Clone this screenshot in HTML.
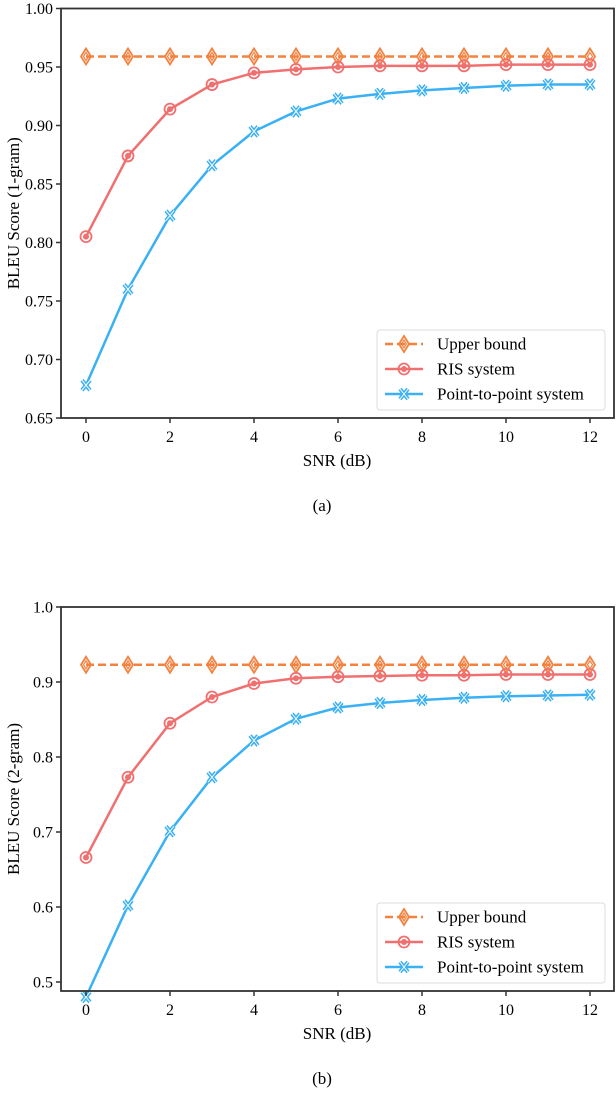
<!DOCTYPE html>
<html><head><meta charset="utf-8"><style>
body{margin:0;background:#fff}
svg{display:block;font-family:"Liberation Serif",serif}
</style></head><body>
<svg id="s" width="616" height="1116"></svg>
<script>
const snr=[0,1,2,3,4,5,6,7,8,9,10,11,12];
const xTicks=[0,2,4,6,8,10,12];
const upperA=[0.959,0.959,0.959,0.959,0.959,0.959,0.959,0.959,0.959,0.959,0.959,0.959,0.959];
const risA=[0.805,0.874,0.914,0.935,0.945,0.948,0.950,0.951,0.951,0.951,0.952,0.952,0.952];
const p2pA=[0.678,0.760,0.823,0.866,0.895,0.912,0.923,0.927,0.930,0.932,0.934,0.935,0.935];
const yTicksA=[0.65,0.70,0.75,0.80,0.85,0.90,0.95,1.00];
const yLabelsA=["0.65","0.70","0.75","0.80","0.85","0.90","0.95","1.00"];
const upperB=[0.923,0.923,0.923,0.923,0.923,0.923,0.923,0.923,0.923,0.923,0.923,0.923,0.923];
const risB=[0.666,0.773,0.845,0.880,0.898,0.905,0.907,0.908,0.909,0.909,0.910,0.910,0.910];
const p2pB=[0.480,0.602,0.701,0.773,0.822,0.851,0.866,0.872,0.876,0.879,0.881,0.882,0.883];
const yTicksB=[0.5,0.6,0.7,0.8,0.9,1.0];
const yLabelsB=["0.5","0.6","0.7","0.8","0.9","1.0"];
const NS="http://www.w3.org/2000/svg";
const svg=document.getElementById('s');
function mk(t,a,p){const e=document.createElementNS(NS,t);for(const k in a)e.setAttribute(k,a[k]);(p||svg).appendChild(e);return e;}
const C_UP="#f5813f",C_RIS="#f07070",C_P2P="#3ab0f5";
function marker(g,kind,x,y,c){
  if(kind==='d'){mk('path',{d:`M${x} ${y-8}L${x+5} ${y}L${x} ${y+8}L${x-5} ${y}Z`,fill:'none',stroke:c,'stroke-width':1.8},g);
    mk('path',{d:`M${x} ${y-4}L${x+2.5} ${y}L${x} ${y+4}L${x-2.5} ${y}Z`,fill:'none',stroke:c,'stroke-width':1.2},g);}
  else if(kind==='o'){mk('circle',{cx:x,cy:y,r:5.5,fill:'none',stroke:c,'stroke-width':1.8},g);mk('circle',{cx:x,cy:y,r:3,fill:c},g);}
  else{mk('path',{d:`M${x-4} ${y-5}L${x+4} ${y+5}M${x+4} ${y-5}L${x-4} ${y+5}`,stroke:c,'stroke-width':4,fill:'none'},g);
    mk('path',{d:`M${x-4} ${y-5}L${x+4} ${y+5}M${x+4} ${y-5}L${x-4} ${y+5}`,stroke:'#fff','stroke-width':1,fill:'none'},g);}
}
function chart(name,top,bot,ymin,ymax,yT,yL,series,ylab,cap){
  const L=61,R=614;
  const g=mk('g',{});
  
  
  const X=v=>86+v*42, Y=v=>bot-(v-ymin)/(ymax-ymin)*(bot-top);
  series.forEach(s=>{
    const sg=mk('g',{},g);
    
    
    mk('polyline',{points:s.v.map((v,i)=>X(snr[i])+','+Y(v)).join(' '),fill:'none',stroke:s.c,'stroke-width':2.5,'stroke-dasharray':s.dash||''},sg);
    s.v.forEach((v,i)=>marker(sg,s.m,X(snr[i]),Y(v),s.c));
  });
  const fr=mk('rect',{x:L,y:top,width:R-L,height:bot-top,fill:'none',stroke:'#333','stroke-width':1.8},g);
  
  
  xTicks.forEach(t=>{mk('line',{x1:X(t),x2:X(t),y1:bot,y2:bot+5,stroke:'#333','stroke-width':1.5},g);
    const tx=mk('text',{x:X(t),y:bot+24,'text-anchor':'middle','font-size':16},g);tx.textContent=t;
    
    });
  yT.forEach((t,i)=>{mk('line',{x1:L-5,x2:L,y1:Y(t),y2:Y(t),stroke:'#333','stroke-width':1.5},g);
    const tx=mk('text',{x:L-8,y:Y(t)+5.5,'text-anchor':'end','font-size':16},g);tx.textContent=yL[i];
    
    });
  const xl=mk('text',{x:337,y:bot+48,'text-anchor':'middle','font-size':17},g);xl.textContent='SNR (dB)';
  
  
  const yl=mk('text',{x:0,y:0,'text-anchor':'middle','font-size':17,transform:`translate(19,${(top+bot)/2}) rotate(-90)`},g);yl.textContent=ylab;
  
  
  const lg=mk('g',{},g);
  
  
  mk('rect',{x:377,y:bot-88,width:228,height:80,rx:3,fill:'#fff',stroke:'#ddd'},lg);
  series.forEach((s,i)=>{const y=bot-74+i*25;
    const e=mk('g',{},lg);
    
    
    mk('line',{x1:385,x2:423,y1:y,y2:y,stroke:s.c,'stroke-width':2.5,'stroke-dasharray':s.dash||''},e);
    marker(e,s.m,404,y,s.c);
    const t=mk('text',{x:437,y:y+5.5,'font-size':17},e);t.textContent=s.label;});
  const cp=mk('text',{x:322,y:bot+93,'text-anchor':'middle','font-size':17},g);cp.textContent=cap;
  
  
}
chart('chart-1gram',8.5,418,0.65,1.0,yTicksA,yLabelsA,[
 {name:'upper-bound-series',label:'Upper bound',v:upperA,c:C_UP,m:'d',dash:'8,4'},
 {name:'ris-series',label:'RIS system',v:risA,c:C_RIS,m:'o'},
 {name:'p2p-series',label:'Point-to-point system',v:p2pA,c:C_P2P,m:'x'}],'BLEU Score (1-gram)','(a)');
chart('chart-2gram',607,991,0.488,1.0,yTicksB,yLabelsB,[
 {name:'upper-bound-series',label:'Upper bound',v:upperB,c:C_UP,m:'d',dash:'8,4'},
 {name:'ris-series',label:'RIS system',v:risB,c:C_RIS,m:'o'},
 {name:'p2p-series',label:'Point-to-point system',v:p2pB,c:C_P2P,m:'x'}],'BLEU Score (2-gram)','(b)');
</script>
</body></html>
